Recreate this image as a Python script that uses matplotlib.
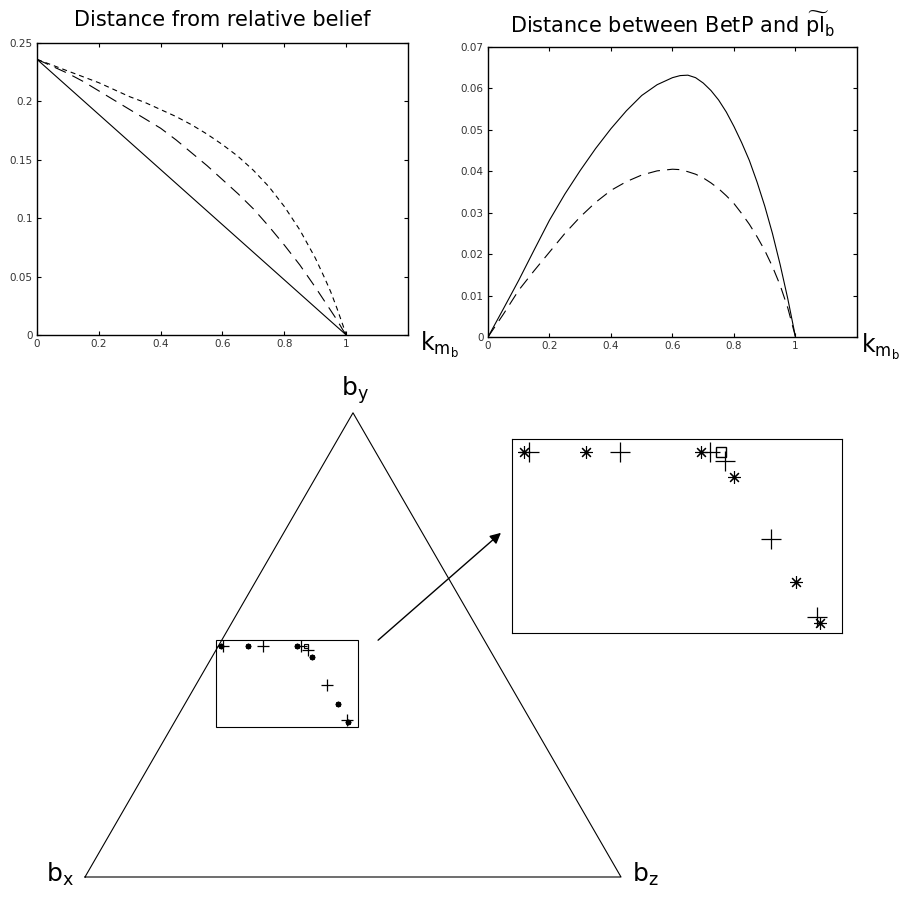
import numpy as np
import matplotlib.pyplot as plt

# distance from the relative belief, as a function of k_{m_b}
k_rel = [0, 0.05, 0.1, 0.15, 0.2, 0.25, 0.3, 0.35, 0.4, 0.45, 0.5, 0.55, 0.6,
         0.65, 0.7, 0.75, 0.8, 0.85, 0.9, 0.93, 0.95, 0.97, 0.99, 1.0]
rel_solid = [0.236, 0.2242, 0.2124, 0.2006, 0.1888, 0.177, 0.1652, 0.1534, 0.1416,
             0.1298, 0.118, 0.1062, 0.0944, 0.0826, 0.0708, 0.059, 0.0472, 0.0354,
             0.0236, 0.0165, 0.0118, 0.0071, 0.0024, 0]
rel_dash = [0.236, 0.230, 0.224, 0.217, 0.209, 0.201, 0.193, 0.185, 0.177, 0.167,
            0.156, 0.145, 0.133, 0.121, 0.108, 0.093, 0.077, 0.060, 0.041, 0.029,
            0.021, 0.013, 0.004, 0]
rel_dot = [0.236, 0.231, 0.226, 0.221, 0.216, 0.210, 0.204, 0.199, 0.193, 0.187,
           0.180, 0.172, 0.163, 0.153, 0.141, 0.127, 0.110, 0.090, 0.066, 0.049,
           0.037, 0.023, 0.008, 0]

# distance between BetP and the relative plausibility
k_bet = [0, 0.05, 0.1, 0.15, 0.2, 0.25, 0.3, 0.35, 0.4, 0.45, 0.5, 0.55, 0.6, 0.625,
         0.65, 0.675, 0.7, 0.725, 0.75, 0.775, 0.8, 0.825, 0.85, 0.875, 0.9, 0.925,
         0.95, 0.975, 1.0]
bet_solid = [0, 0.0068, 0.0137, 0.0210, 0.0282, 0.0345, 0.0402, 0.0455, 0.0503,
             0.0546, 0.0583, 0.0609, 0.0626, 0.0631, 0.0632, 0.0626, 0.0613, 0.0595,
             0.0572, 0.0543, 0.0508, 0.0469, 0.0426, 0.0374, 0.0316, 0.0250, 0.0175,
             0.0092, 0]
bet_dash = [0, 0.0055, 0.0113, 0.0160, 0.0205, 0.0250, 0.0290, 0.0325, 0.0354,
            0.0375, 0.0391, 0.0401, 0.0405, 0.0404, 0.0399, 0.0393, 0.0384, 0.0372,
            0.0358, 0.0341, 0.0322, 0.0298, 0.0272, 0.0242, 0.0209, 0.0170, 0.0125,
            0.0070, 0]

# simplex vertices b_x, b_z, b_y (unit side)
tri_x = [0, 1, 0.5, 0]
tri_y = [0, 0, np.sqrt(3) / 2, 0]

# points inside the simplex
star_x = [0.2541, 0.3037, 0.3961, 0.4226, 0.4724, 0.4916]
star_y = [0.4313, 0.4313, 0.4313, 0.4104, 0.3226, 0.2883]
plus_x = [0.2580, 0.3312, 0.4034, 0.4155, 0.4524, 0.4892]
plus_y = [0.4313, 0.4313, 0.4313, 0.4237, 0.3584, 0.2933]
sq_x = [0.4121]
sq_y = [0.4313]

# zoomed region
zoom_x = (0.2444, 0.5093)
zoom_y = (0.2799, 0.4422)

plt.rcParams['font.family'] = ['DejaVu Sans']
W, H = 904, 898
fig = plt.figure(figsize=(W / 100, H / 100), dpi=100)


def style_axes(ax, yticks, ylabels, ymax):
    ax.set_xlim(0, 1.2)
    ax.set_ylim(0, ymax)
    ax.set_xticks([0, 0.2, 0.4, 0.6, 0.8, 1])
    ax.set_xticklabels(['0', '0.2', '0.4', '0.6', '0.8', '1'])
    ax.set_yticks(yticks)
    ax.set_yticklabels(ylabels)
    ax.tick_params(direction='in', top=True, right=True, length=3, width=0.8,
                   labelsize=7.5, colors='black', labelcolor='#333333', pad=3)
    for s in ax.spines.values():
        s.set_linewidth(1.0)


ax1 = fig.add_axes([37 / W, 1 - 335 / H, 371 / W, 292 / H])
ax1.plot(k_rel, rel_solid, color='black', lw=0.8)
ax1.plot(k_rel, rel_dash, color='black', lw=0.8, dashes=(11, 6.5))
ax1.plot(k_rel, rel_dot, color='black', lw=0.8, dashes=(4.5, 3.6))
style_axes(ax1, [0, 0.05, 0.1, 0.15, 0.2, 0.25],
           ['0', '0.05', '0.1', '0.15', '0.2', '0.25'], 0.25)
ax1.set_title('Distance from relative belief', fontsize=15, pad=12)
ax1.text(1.032, -0.035, r'$\mathregular{k_{m_b}}$', transform=ax1.transAxes,
         fontsize=17, ha='left', va='center')

ax2 = fig.add_axes([488 / W, 1 - 337 / H, 369 / W, 290 / H])
ax2.plot(k_bet, bet_solid, color='black', lw=0.8)
ax2.plot(k_bet, bet_dash, color='black', lw=0.8, dashes=(11, 6.5))
style_axes(ax2, [0, 0.01, 0.02, 0.03, 0.04, 0.05, 0.06, 0.07],
           ['0', '0.01', '0.02', '0.03', '0.04', '0.05', '0.06', '0.07'], 0.07)
ax2.set_title(r'Distance between BetP and $\mathregular{\widetilde{pl}_b}$',
              fontsize=15, pad=10)
ax2.text(1.012, -0.035, r'$\mathregular{k_{m_b}}$', transform=ax2.transAxes,
         fontsize=17, ha='left', va='center')

# simplex drawing: 536 px per unit, b_x at pixel (85, 877)
scale = 536.0
ax3 = fig.add_axes([0, 0, 1, (H - 380) / H])
ax3.set_xlim(-85 / scale, (W - 85) / scale)
ax3.set_ylim((877 - H) / scale, (877 - 380) / scale)
ax3.axis('off')
ax3.plot(tri_x, tri_y, color='black', lw=0.8)
ax3.plot(star_x, star_y, ls='none', marker=(8, 2, 0), ms=4, mew=1.2, color='black')
ax3.plot(plus_x, plus_y, ls='none', marker='+', ms=8, mew=0.9, color='black')
ax3.plot(sq_x, sq_y, ls='none', marker='s', ms=3.5, mew=0.8, mfc='none', color='black')
ax3.add_patch(plt.Rectangle((zoom_x[0], zoom_y[0]), zoom_x[1] - zoom_x[0],
                            zoom_y[1] - zoom_y[0], fill=False, lw=0.8, color='black'))
ax3.annotate('', xy=(0.7799, 0.6455), xytext=(0.5429, 0.4384),
             arrowprops=dict(arrowstyle='-|>', color='black', lw=1.0,
                             mutation_scale=16))
ax3.text(tri_x[0] - 0.02, tri_y[0] + 0.005, r'$\mathregular{b_x}$', fontsize=18,
         ha='right', va='center')
ax3.text(tri_x[1] + 0.02, tri_y[1] + 0.005, r'$\mathregular{b_z}$', fontsize=18,
         ha='left', va='center')
ax3.text(tri_x[2] + 0.003, tri_y[2] + 0.012, r'$\mathregular{b_y}$', fontsize=18,
         ha='center', va='bottom')

# magnified view of the zoomed region
ax4 = fig.add_axes([512 / W, 1 - 633 / H, 330 / W, 194 / H])
ax4.plot(star_x, star_y, ls='none', marker=(8, 2, 0), ms=9, mew=0.8, color='black')
ax4.plot(plus_x, plus_y, ls='none', marker='+', ms=15, mew=0.9, color='black')
ax4.plot(sq_x, sq_y, ls='none', marker='s', ms=7, mew=1.0, mfc='none', color='black')
ax4.set_xlim(*zoom_x)
ax4.set_ylim(*zoom_y)
ax4.set_xticks([])
ax4.set_yticks([])
for s in ax4.spines.values():
    s.set_linewidth(0.8)

fig.savefig('out.png', dpi=100)
